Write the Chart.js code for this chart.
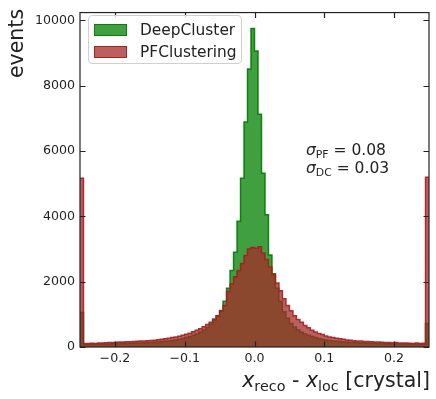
<!DOCTYPE html>
<html>
<head>
<meta charset="utf-8">
<script src="https://cdn.jsdelivr.net/npm/chart.js@4/dist/chart.umd.min.js"></script>
<style>
  html, body { margin: 0; padding: 0; background: #fff; }
  #wrap { position: relative; width: 436px; height: 399px; font-family: "DejaVu Sans", sans-serif; color: #222; }
  #c { position: absolute; left: 0; top: 0; }
  sub { font-size: 0.7em; vertical-align: -0.28em; line-height: 0; }
  .legend { position: absolute; left: 88px; top: 15px; width: 152px; height: 47px; border: 1px solid #d0d0d0; border-radius: 4px; background: rgba(255,255,255,.85); }
  .legend .row { position: absolute; left: 5px; height: 18px; font-size: 15.4px; line-height: 18px; white-space: nowrap; }
  .legend .patch { display: inline-block; width: 31px; height: 10px; vertical-align: -1px; margin-right: 13px; border: 1.3px solid; }
  .sig { position: absolute; left: 306px; top: 141px; font-size: 15.5px; line-height: 18px; white-space: nowrap; }
  .ylab { position: absolute; left: 4px; top: 78px; font-size: 20.5px; transform-origin: 0 0; transform: rotate(-90deg); white-space: nowrap; }
  .xlab { position: absolute; right: 6px; top: 368px; font-size: 20.5px; white-space: nowrap; }
</style>
</head>
<body>
<div id="wrap">
  <canvas id="c" width="436" height="399"></canvas>
  <div class="legend">
    <div class="row" style="top:5px"><span class="patch" style="background:rgba(0,128,0,.75);border-color:#0a7d0a"></span>DeepCluster</div>
    <div class="row" style="top:27px"><span class="patch" style="background:rgba(165,42,42,.75);border-color:#a52222"></span>PFClustering</div>
  </div>
  <div class="sig"><i>σ</i><sub>PF</sub> = 0.08<br><i>σ</i><sub>DC</sub> = 0.03</div>
  <div class="ylab">events</div>
  <div class="xlab"><i>x</i><sub>reco</sub> - <i>x</i><sub>loc</sub> [crystal]</div>
</div>
<script>
// histogram of x_reco - x_loc, 100 bins on [-0.25, 0.25], under/overflow piled in the edge bins
const X_MIN = -0.25, X_MAX = 0.25, BIN_W = 0.005;
const X_TICKS = [-0.2, -0.1, 0.0, 0.1, 0.2];
const Y_TICKS = [0, 2000, 4000, 6000, 8000, 10000];
const Y_MAX = 10240;

const deepCluster = [
  1060, 80, 82, 85, 85, 88, 90, 92, 95, 98,
  100, 102, 105, 110, 112, 115, 120, 125, 130, 135,
  140, 150, 155, 165, 175, 185, 200, 215, 235, 260,
  290, 320, 360, 400, 450, 520, 600, 700, 820, 960,
  1120, 1400, 1800, 2340, 2900, 3850, 5170, 6890, 8510, 9750,
  9060, 7130, 5320, 4050, 2820, 2240, 1800, 1400, 1080, 880,
  720, 610, 520, 450, 400, 360, 320, 290, 260, 235,
  215, 200, 185, 175, 165, 155, 150, 140, 135, 130,
  125, 120, 115, 112, 110, 105, 102, 100, 98, 95,
  95, 92, 90, 90, 88, 85, 85, 82, 80, 720,
];
const pfClustering = [
  5170, 110, 105, 115, 110, 120, 125, 130, 135, 140,
  145, 150, 150, 160, 160, 170, 175, 180, 185, 195,
  200, 210, 220, 235, 250, 265, 290, 305, 330, 360,
  390, 420, 470, 510, 560, 620, 690, 760, 860, 960,
  1100, 1270, 1700, 1930, 2150, 2340, 2560, 2800, 3000, 3050,
  3020, 3070, 2880, 2680, 2450, 2210, 1960, 1720, 1480, 1270,
  1110, 960, 840, 760, 660, 590, 510, 460, 410, 380,
  340, 310, 290, 265, 250, 235, 215, 205, 195, 185,
  180, 170, 165, 160, 155, 150, 145, 140, 140, 130,
  135, 125, 120, 125, 115, 110, 120, 110, 115, 5200,
];

// step outline: one point per left bin edge, plus the closing right edge
const steps = (vals) => vals.map((v, i) => ({ x: X_MIN + i * BIN_W, y: v }))
  .concat([{ x: X_MAX, y: vals[vals.length - 1] }]);

const frame = {
  id: "frame",
  afterDatasetsDraw(chart) {
    const { ctx, chartArea: a, scales: { x, y } } = chart;
    ctx.save();
    ctx.strokeStyle = "#222";
    ctx.lineWidth = 1.2;
    ctx.strokeRect(a.left, a.top, a.right - a.left, a.bottom - a.top);
    ctx.beginPath();
    X_TICKS.forEach((v) => {
      const p = Math.round(x.getPixelForValue(v)) + 0.5;
      ctx.moveTo(p, a.bottom); ctx.lineTo(p, a.bottom - 5.5);
      ctx.moveTo(p, a.top); ctx.lineTo(p, a.top + 5.5);
    });
    Y_TICKS.forEach((v) => {
      const p = Math.round(y.getPixelForValue(v)) + 0.5;
      ctx.moveTo(a.left, p); ctx.lineTo(a.left + 5.5, p);
      ctx.moveTo(a.right, p); ctx.lineTo(a.right - 5.5, p);
    });
    ctx.stroke();
    ctx.restore();
  },
};

const font = { family: "'DejaVu Sans', sans-serif", size: 12.6 };
const fmtX = (v) => (v < 0 ? "\u2212" : "") + Math.abs(v).toFixed(1);

new Chart(document.getElementById("c"), {
  type: "line",
  data: {
    datasets: [
      { label: "DeepCluster", data: steps(deepCluster), stepped: "before", fill: "origin",
        backgroundColor: "rgba(0,128,0,0.75)", borderColor: "rgba(0,120,0,0.9)", borderWidth: 1.5,
        pointRadius: 0, order: 1 },
      { label: "PFClustering", data: steps(pfClustering), stepped: "before", fill: "origin",
        backgroundColor: "rgba(165,42,42,0.75)", borderColor: "rgba(165,30,30,0.9)", borderWidth: 1.5,
        pointRadius: 0, order: 0 },
    ],
  },
  options: {
    responsive: false, animation: false, devicePixelRatio: 1,
    layout: { padding: { top: 7, right: 7, left: 0, bottom: 0 } },
    plugins: { legend: { display: false }, tooltip: { enabled: false } },
    scales: {
      x: {
        type: "linear", min: X_MIN, max: X_MAX,
        grid: { display: false, drawTicks: false }, border: { display: false },
        afterBuildTicks: (s) => { s.ticks = X_TICKS.map((v) => ({ value: v })); },
        afterFit: (s) => { s.height = 52; },
        ticks: { color: "#222", font, padding: 4, maxRotation: 0, callback: fmtX },
      },
      y: {
        min: 0, max: Y_MAX,
        grid: { display: false, drawTicks: false }, border: { display: false },
        afterBuildTicks: (s) => { s.ticks = Y_TICKS.map((v) => ({ value: v })); },
        afterFit: (s) => { s.width = 80; },
        ticks: { color: "#222", font, padding: 5, callback: (v) => String(v) },
      },
    },
  },
  plugins: [frame],
});
</script>
</body>
</html>
